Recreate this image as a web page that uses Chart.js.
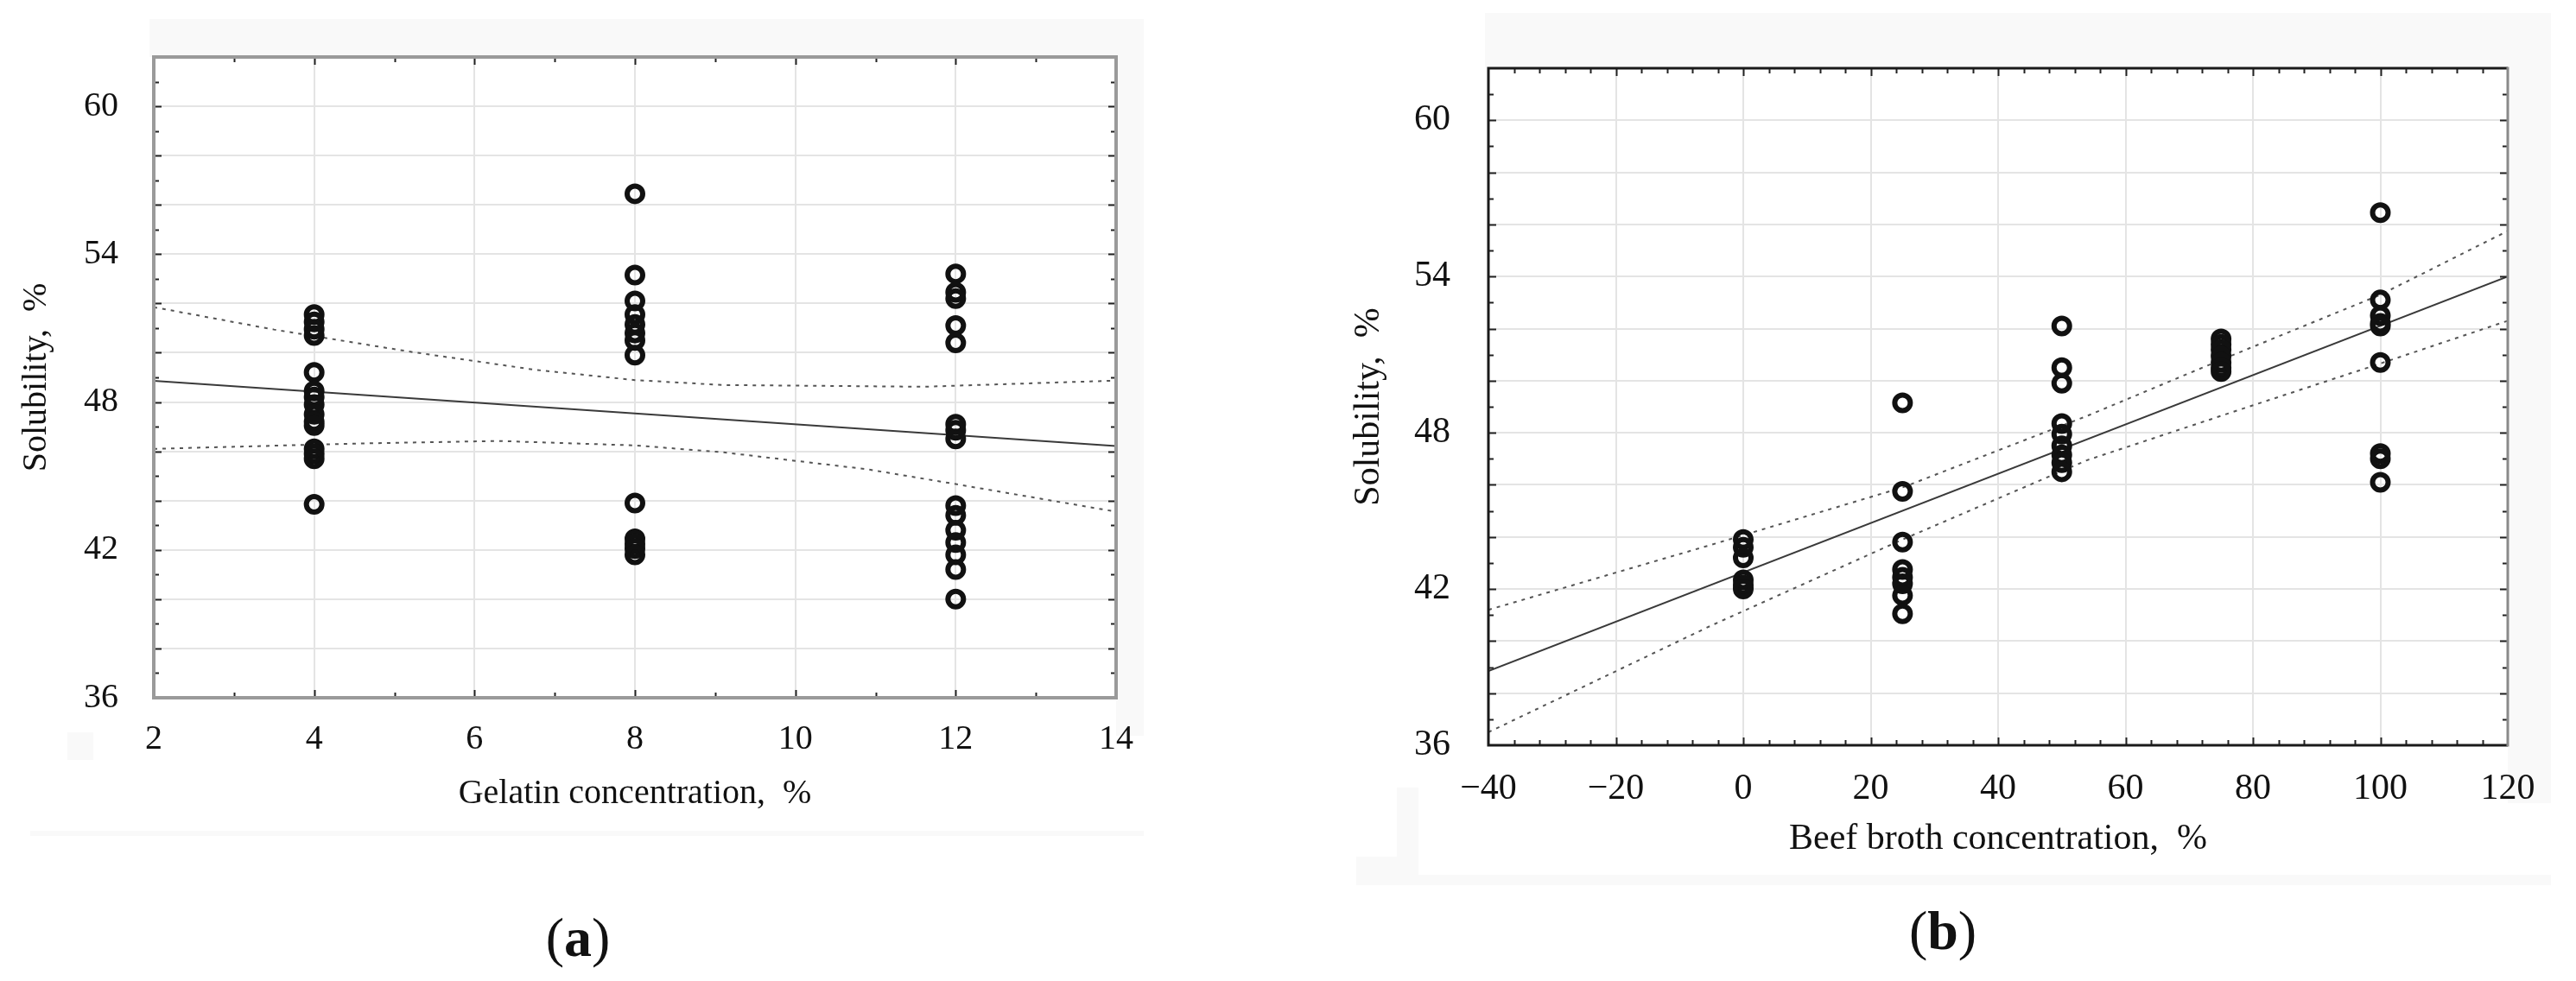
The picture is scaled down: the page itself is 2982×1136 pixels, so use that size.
<!DOCTYPE html>
<html>
<head>
<meta charset="utf-8">
<script src="https://cdn.jsdelivr.net/npm/chart.js@4.4.1/dist/chart.umd.min.js"></script>
<style>
	html, body { margin: 0; padding: 0; background: #fff; }
	body { width: 2982px; height: 1136px; position: relative; overflow: hidden; }
	canvas { position: absolute; top: 0; }
	#chartA { left: 0; }
	#chartB { left: 1491px; }
	.cap { position: absolute; font: 64px "Liberation Serif", serif; color: #111; transform: translate(-50%, -50%); white-space: nowrap; }
</style>
</head>
<body>
<canvas id="chartA" width="1491" height="1136"></canvas>
<canvas id="chartB" width="1491" height="1136"></canvas>
<div class="cap" style="left:669px;top:1086px">(<b>a</b>)</div>
<div class="cap" style="left:2249px;top:1078px">(<b>b</b>)</div>
<script>
"use strict";

// (a) solubility vs gelatin concentration
var gelatinLevels = [4, 8, 12];
var solGel4 = [51.55, 51.25, 50.95, 50.7, 49.2, 48.45, 48.2, 47.9, 47.5, 47.2, 47.05, 46.1, 45.9, 45.7, 43.85];
var solGel8 = [56.45, 53.15, 52.1, 51.55, 51.15, 50.8, 50.5, 49.9, 43.9, 42.45, 42.25, 42.05, 41.8];
var solGel12 = [53.2, 52.45, 52.2, 51.1, 50.4, 47.1, 46.85, 46.5, 43.8, 43.4, 42.8, 42.3, 41.8, 41.2, 40.0];
var gelFitX = [2, 14];
var gelFitY = [48.86, 46.21];
var gelUpperX = [2, 3.5, 5.2, 6.75, 8, 9.1, 11.6, 14];
var gelUpperY = [51.85, 50.94, 50.04, 49.31, 48.89, 48.69, 48.62, 48.87];
var gelLowerX = [2, 4.6, 6.3, 8, 9.1, 10.9, 12, 14];
var gelLowerY = [46.1, 46.32, 46.42, 46.24, 45.96, 45.27, 44.67, 43.55];
var gelTicks = [2, 4, 6, 8, 10, 12, 14];

// (b) solubility vs beef broth concentration
var brothLevels = [0, 25, 50, 75, 100];
var solBroth0 = [43.9, 43.6, 43.2, 42.35, 42.15, 42.0];
var solBroth25 = [49.15, 45.75, 43.8, 42.75, 42.45, 42.2, 41.75, 41.05];
var solBroth50 = [52.1, 50.5, 49.9, 48.35, 47.95, 47.5, 47.15, 46.85, 46.5];
var solBroth75 = [51.6, 51.4, 51.2, 50.95, 50.7, 50.5, 50.35];
var solBroth100 = [56.45, 53.1, 52.5, 52.2, 52.1, 50.7, 47.2, 47.0, 46.1];
var brothFitX = [-40, 120];
var brothFitY = [38.85, 54.0];
var brothUpperX = [-40, -5, 25, 54, 75, 100, 120];
var brothUpperY = [41.2, 43.7, 45.9, 48.65, 50.8, 53.3, 55.75];
var brothLowerX = [-40, -5, 25, 54, 75, 100, 120];
var brothLowerY = [36.5, 40.6, 43.9, 46.95, 48.65, 50.66, 52.3];
var brothTicks = [-40, -20, 0, 20, 40, 60, 80, 100, 120];

var solTicks = [36, 42, 48, 54, 60];

function cluster(levels, groups) {
	var pts = [];
	levels.forEach(function (x, i) {
		groups[i].forEach(function (y) { pts.push({ x: x, y: y }); });
	});
	return pts;
}
function pairs(xs, ys) {
	return xs.map(function (x, i) { return { x: x, y: ys[i] }; });
}
function fmt(v) {
	return v < 0 ? "\u2212" + Math.abs(v) : String(v);
}

// light panel, white plot area, inward ticks and frame
var framePlugin = {
	id: "frame",
	beforeDraw: function (chart, args, o) {
		var ctx = chart.ctx, a = chart.chartArea;
		ctx.save();
		ctx.fillStyle = "#f9f9f9";
		(o.panels || []).forEach(function (r) { ctx.fillRect(r[0], r[1], r[2], r[3]); });
		ctx.fillStyle = "#fff";
		ctx.fillRect(a.left, a.top, a.width, a.height);
		ctx.restore();
	},
	afterDraw: function (chart, args, o) {
		var ctx = chart.ctx, a = chart.chartArea, xs = chart.scales.x, ys = chart.scales.y;
		ctx.save();
		ctx.strokeStyle = "#222";
		ctx.lineWidth = 2;
		var n, i, v, p, len;
		n = Math.round((xs.max - xs.min) / o.xMinor);
		for (i = 1; i < n; i++) {
			v = xs.min + i * o.xMinor;
			p = Math.round(xs.getPixelForValue(v)) + 0.5;
			len = (Math.abs(v % o.xMajor) < 1e-6) ? 9 : 6;
			ctx.beginPath();
			ctx.moveTo(p, a.bottom); ctx.lineTo(p, a.bottom - len);
			ctx.moveTo(p, a.top); ctx.lineTo(p, a.top + len);
			ctx.stroke();
		}
		n = Math.round((ys.max - ys.min) / o.yMinor);
		for (i = 1; i < n; i++) {
			v = ys.min + i * o.yMinor;
			p = Math.round(ys.getPixelForValue(v)) + 0.5;
			len = (Math.abs(v % o.yMajor) < 1e-6) ? 9 : 6;
			ctx.beginPath();
			ctx.moveTo(a.left, p); ctx.lineTo(a.left + len, p);
			ctx.moveTo(a.right, p); ctx.lineTo(a.right - len, p);
			ctx.stroke();
		}
		ctx.lineWidth = o.width;
		ctx.strokeStyle = o.color;
		ctx.beginPath();
		ctx.moveTo(a.right, a.bottom); ctx.lineTo(a.left, a.bottom);
		ctx.lineTo(a.left, a.top); ctx.lineTo(a.right, a.top);
		ctx.stroke();
		ctx.strokeStyle = o.rightColor;
		ctx.beginPath();
		ctx.moveTo(a.right, a.top - o.width / 2); ctx.lineTo(a.right, a.bottom + o.width / 2);
		ctx.stroke();
		ctx.restore();
	}
};

function makeChart(id, cfg) {
	var serif = "'Liberation Serif', 'Times New Roman', serif";
	return new Chart(document.getElementById(id), {
		type: "scatter",
		data: {
			datasets: [{
				data: cfg.points,
				pointStyle: "circle",
				pointRadius: 9,
				pointHoverRadius: 9,
				borderWidth: 6,
				borderColor: "#111",
				backgroundColor: "rgba(0,0,0,0)"
			}, {
				data: cfg.fit,
				showLine: true,
				pointRadius: 0,
				borderColor: "#3a3a3a",
				borderWidth: 2
			}, {
				data: cfg.upper,
				showLine: true,
				pointRadius: 0,
				borderColor: "#555",
				borderWidth: 2,
				borderDash: [4, 6]
			}, {
				data: cfg.lower,
				showLine: true,
				pointRadius: 0,
				borderColor: "#555",
				borderWidth: 2,
				borderDash: [4, 6]
			}]
		},
		options: {
			responsive: false,
			animation: false,
			devicePixelRatio: 1,
			layout: { padding: cfg.padding },
			plugins: {
				legend: { display: false },
				tooltip: { enabled: false },
				frame: cfg.frame
			},
			scales: {
				x: {
					type: "linear",
					min: cfg.xMin, max: cfg.xMax,
					afterFit: function (s) { s.height = 150; },
					border: { display: false },
					grid: { color: "#e4e4e4", lineWidth: 2, drawTicks: false },
					ticks: {
						stepSize: cfg.xStep,
						autoSkip: false,
						maxRotation: 0,
						padding: cfg.xTickPad,
						color: "#111",
						font: { family: serif, size: cfg.fontSize },
						callback: function (v) { return cfg.xLabels.indexOf(v) >= 0 ? fmt(v) : ""; }
					},
					title: {
						display: true,
						text: cfg.xTitle,
						color: "#111",
						font: { family: serif, size: cfg.fontSize },
						padding: { top: 0, bottom: cfg.xTitlePad }
					}
				},
				y: {
					type: "linear",
					min: 36, max: 62,
					afterFit: function (s) { s.width = cfg.yWidth; },
					border: { display: false },
					grid: { color: "#e4e4e4", lineWidth: 2, drawTicks: false },
					ticks: {
						stepSize: 2,
						autoSkip: false,
						padding: cfg.yTickPad,
						color: "#111",
						font: { family: serif, size: cfg.fontSize },
						callback: function (v) { return solTicks.indexOf(v) >= 0 ? String(v) : ""; }
					},
					title: {
						display: true,
						text: "Solubility,  %",
						color: "#111",
						font: { family: serif, size: cfg.fontSize },
						padding: { top: cfg.yTitlePad, bottom: 0 }
					}
				}
			}
		},
		plugins: [framePlugin]
	});
}

// chart a - gelatin
makeChart("chartA", {
	points: cluster(gelatinLevels, [solGel4, solGel8, solGel12]),
	fit: pairs(gelFitX, gelFitY),
	upper: pairs(gelUpperX, gelUpperY),
	lower: pairs(gelLowerX, gelLowerY),
	xMin: 2, xMax: 14, xStep: 2, xLabels: gelTicks,
	xTitle: "Gelatin concentration,  %",
	fontSize: 40,
	padding: { left: 0, top: 66, right: 199, bottom: 178 },
	yWidth: 178, yTickPad: 41, yTitlePad: 18,
	xTickPad: 24, xTitlePad: 15,
	frame: {
		xMinor: 1, xMajor: 2, yMinor: 1, yMajor: 2,
		color: "#9a9a9a", rightColor: "#9a9a9a", width: 4,
		panels: [[173, 22, 1151, 44], [1292, 22, 32, 830], [35, 962, 1289, 6], [78, 848, 30, 32]]
	}
});

// chart b - beef broth
makeChart("chartB", {
	points: cluster(brothLevels, [solBroth0, solBroth25, solBroth50, solBroth75, solBroth100]),
	fit: pairs(brothFitX, brothFitY),
	upper: pairs(brothUpperX, brothUpperY),
	lower: pairs(brothLowerX, brothLowerY),
	xMin: -40, xMax: 120, xStep: 20, xLabels: brothTicks,
	xTitle: "Beef broth concentration,  %",
	fontSize: 42,
	padding: { left: 0, top: 79, right: 79, bottom: 123 },
	yWidth: 232, yTickPad: 44, yTitlePad: 69,
	xTickPad: 26, xTitlePad: 16,
	frame: {
		xMinor: 4, xMajor: 20, yMinor: 1, yMajor: 2,
		color: "#1a1a1a", rightColor: "#8a8a8a", width: 3,
		panels: [[228, 15, 1234, 64], [1412, 15, 50, 915], [79, 1013, 1383, 12], [79, 992, 72, 33], [126, 912, 25, 80]]
	}
});
</script>
</body>
</html>
